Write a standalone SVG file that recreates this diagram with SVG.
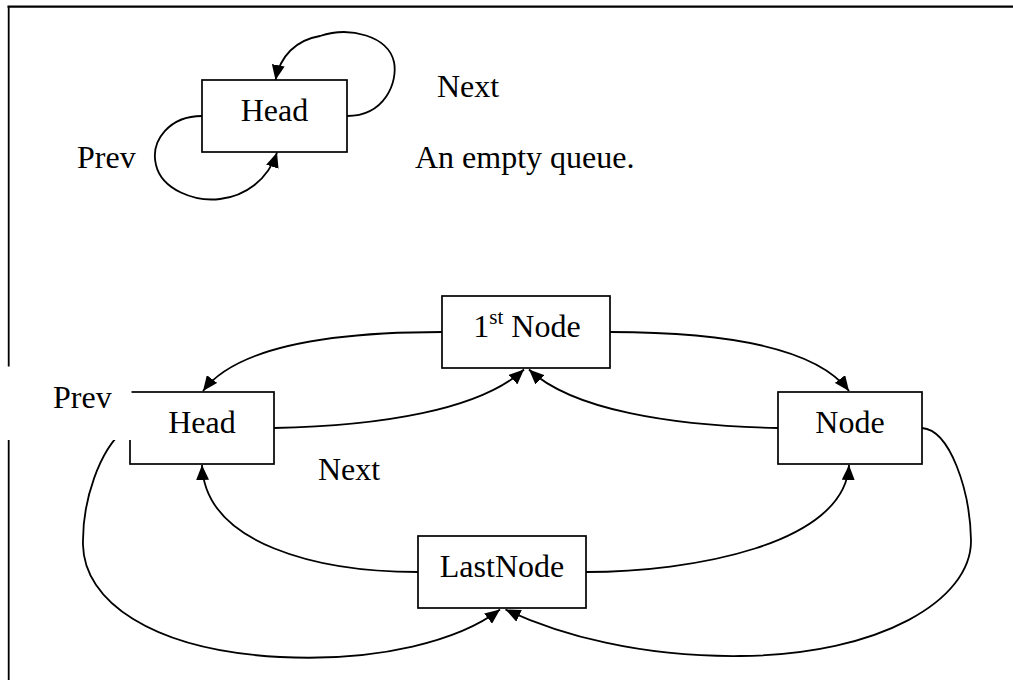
<svg xmlns="http://www.w3.org/2000/svg" width="1013" height="680" viewBox="0 0 1013 680">
  <style>
    .box { fill: #ffffff; stroke: #000000; stroke-width: 1.7; }
    .arrow { fill: none; stroke: #000000; stroke-width: 1.8; marker-end: url(#head); }
    .label { font-family: "Liberation Serif", "Times New Roman", serif; font-size: 32px; fill: #000000; }
    .mid { text-anchor: middle; }
  </style>
  <defs>
    <marker id="head" markerWidth="15" markerHeight="13" refX="15" refY="6.5" orient="auto" markerUnits="userSpaceOnUse">
      <path d="M0,0 L15,6.5 L0,13 z" fill="#000000"/>
    </marker>
  </defs>

  <rect x="0" y="0" width="1013" height="680" fill="#ffffff"/>

  <!-- page frame: top and left rules only -->
  <g id="frame" stroke="#000000" fill="none">
    <line x1="7.5" y1="6.7" x2="1013" y2="6.7" stroke-width="2.2"/>
    <line x1="8.7" y1="6" x2="8.7" y2="680" stroke-width="1.8"/>
  </g>

  <!-- links -->
  <g id="connectors">
    <!-- empty queue: head points to itself both ways -->
    <path class="arrow" d="M347,116 C385,116 398,82 394,62 C388,36 350,26 320,36 C296,40 280,56 275.5,80"/>
    <path class="arrow" d="M202,116 C170,116 150,140 156,165 C162,190 195,202 220,199 C245,196 268,180 277,152.5"/>

    <!-- populated queue -->
    <path class="arrow" d="M442,332 C350,332 240,342 203,391"/>
    <path class="arrow" d="M274,428 C380,426 480,410 524,369.5"/>
    <path class="arrow" d="M778,428 C672,426 572,410 529,369.5"/>
    <path class="arrow" d="M610,332 C702,332 812,342 849,391"/>
    <path class="arrow" d="M418,572 C320,572 205,545 202,465"/>
    <path class="arrow" d="M586,572 C690,572 845,545 849,465"/>
    <path class="arrow" d="M124,430 C100,450 82,500 83,545 C84,600 150,650 280,657 C380,662 460,640 500,609.5"/>
    <path class="arrow" d="M922,428 C950,430 970,490 971,540 C972,600 880,655 740,656 C640,657 560,635 505.5,609.5"/>
  </g>

  <!-- empty queue -->
  <g id="empty-head">
    <rect class="box" x="202" y="80" width="145" height="72"/>
    <text class="label mid" x="274.5" y="121">Head</text>
  </g>
  <g id="empty-labels">
    <text class="label" x="437" y="97">Next</text>
    <text class="label" x="77" y="168">Prev</text>
    <text class="label" x="415" y="168">An empty queue.</text>
  </g>

  <!-- populated queue -->
  <g id="node-first">
    <rect class="box" x="442" y="296" width="168" height="72"/>
    <text class="label mid" x="527" y="337">1<tspan font-size="21" dy="-13">st</tspan><tspan dy="13"> Node</tspan></text>
  </g>
  <g id="node-head">
    <rect class="box" x="130" y="392" width="144" height="72"/>
    <text class="label mid" x="202" y="433">Head</text>
  </g>
  <g id="node-middle">
    <rect class="box" x="778" y="392" width="144" height="72"/>
    <text class="label mid" x="850" y="433">Node</text>
  </g>
  <g id="node-last">
    <rect class="box" x="418" y="536" width="168" height="72"/>
    <text class="label mid" x="502" y="577">LastNode</text>
  </g>
  <g id="label-next">
    <text class="label" x="318" y="480">Next</text>
  </g>
  <!-- the Prev caption sits in an opaque text box -->
  <g id="label-prev">
    <rect x="1" y="366.5" width="130.5" height="73.5" fill="#ffffff"/>
    <text class="label" x="53" y="408">Prev</text>
  </g>
</svg>
